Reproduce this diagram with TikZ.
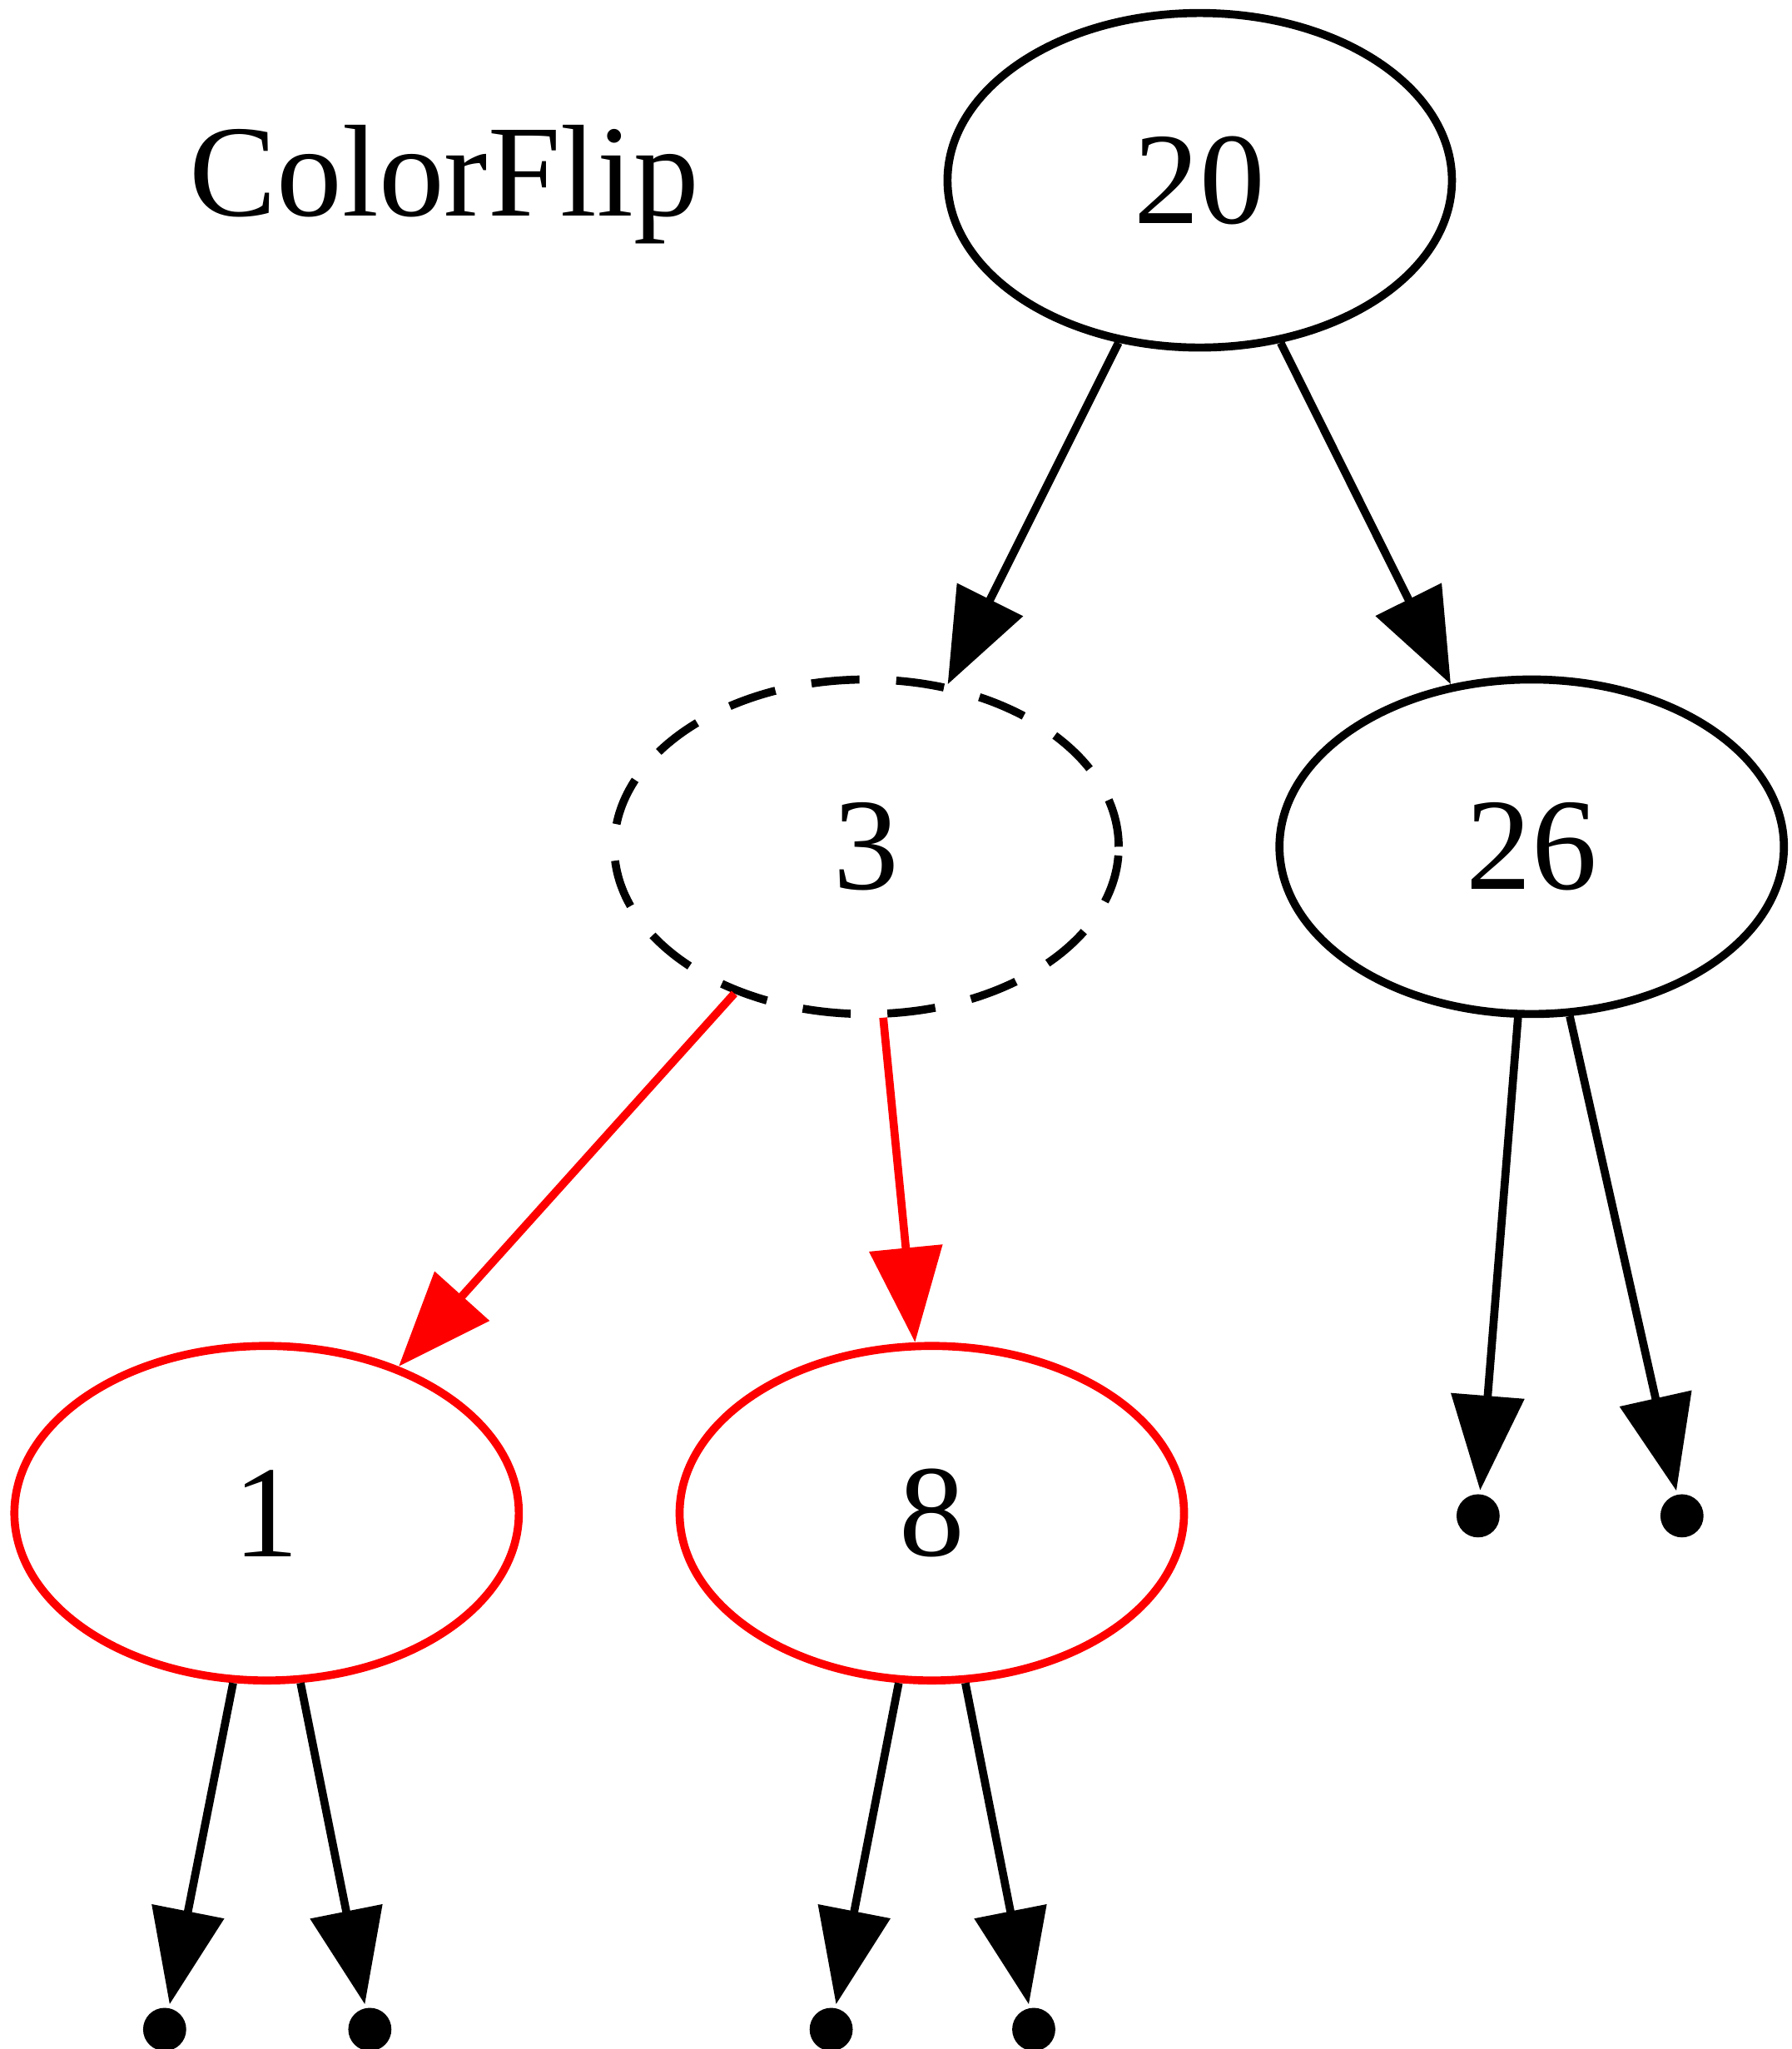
\documentclass[tikz,border=0pt]{standalone}
\usepackage{fontspec}
\setmainfont{Liberation Serif}
\usetikzlibrary{shapes.geometric,arrows.meta,positioning}

\begin{document}
\begin{tikzpicture}[
    line width=3.5pt,
    font=\fontsize{57}{68}\selectfont,
    treenode/.style={draw, ellipse, inner sep=0pt, minimum width=7.72cm, minimum height=5.12cm},
    rednode/.style={treenode, draw=red, text=black},
    flipnode/.style={treenode, dash pattern=on 21pt off 16pt},
    nilpoint/.style={circle, fill, inner sep=0pt, minimum size=0.66cm},
    edge/.style={-{Triangle[length=1.45cm, width=1.1cm]}},
    rededge/.style={edge, red}]
    \useasboundingbox (0,0) rectangle (27.42,31.36);

    % title
    \node (title) [anchor=base] at (6.80,28.06) {ColorFlip};

    % draw nodes
    \node (n20) [treenode] at (18.36,28.60) {20};
    \node (n3)  [flipnode] at (13.26,18.40) {3};
    \node (n26) [treenode] at (23.44,18.40) {26};
    \node (n1)  [rednode]  at (4.08,8.20) {1};
    \node (n8)  [rednode]  at (14.26,8.20) {8};

    % nil leaves
    \node (n26l) [nilpoint] at (22.62,8.16) {};
    \node (n26r) [nilpoint] at (25.74,8.16) {};
    \node (n1l)  [nilpoint] at (2.52,0.30) {};
    \node (n1r)  [nilpoint] at (5.66,0.30) {};
    \node (n8l)  [nilpoint] at (12.72,0.30) {};
    \node (n8r)  [nilpoint] at (15.82,0.30) {};

    % draw edges
    \draw[edge] (n20) -- (n3);
    \draw[edge] (n20) -- (n26);
    \draw[rededge] (n3) -- (n1);
    \draw[rededge] (n3) -- (n8);
    \draw[edge] (n26) -- (n26l);
    \draw[edge] (n26) -- (n26r);
    \draw[edge] (n1) -- (n1l);
    \draw[edge] (n1) -- (n1r);
    \draw[edge] (n8) -- (n8l);
    \draw[edge] (n8) -- (n8r);

\end{tikzpicture}
\end{document}
